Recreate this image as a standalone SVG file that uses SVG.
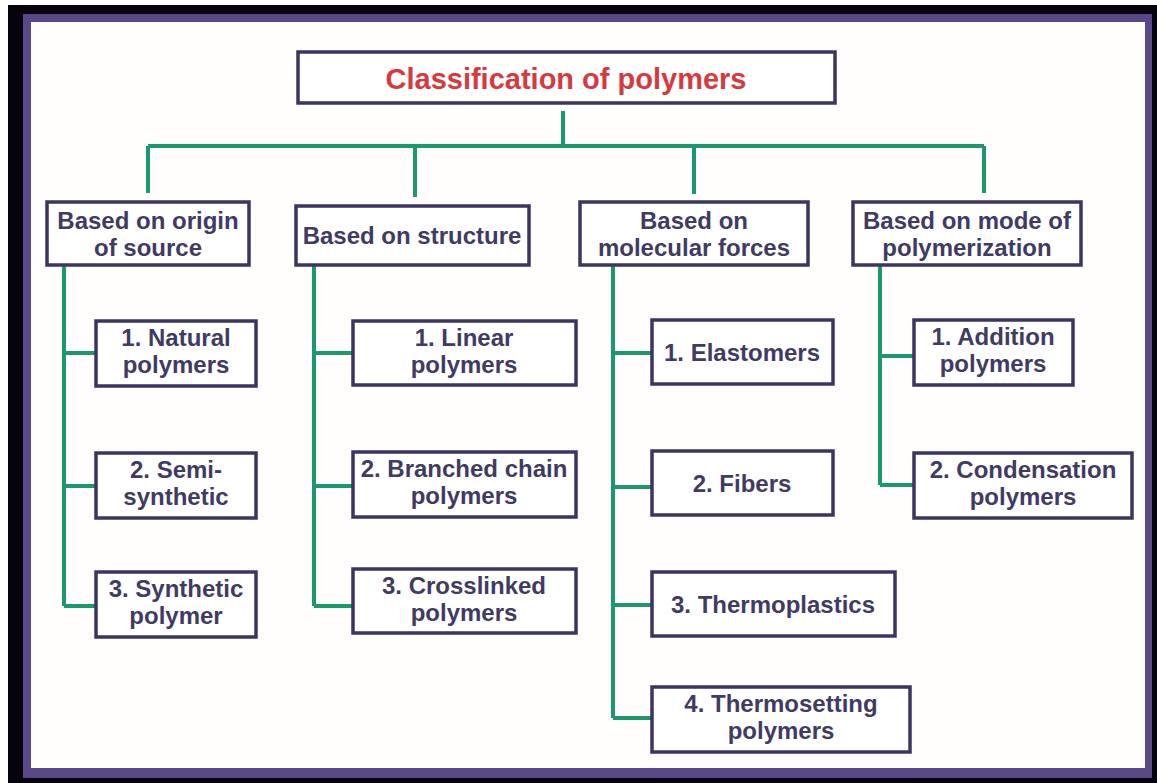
<svg xmlns="http://www.w3.org/2000/svg" width="1157" height="783" viewBox="0 0 1157 783">
<style>
.box{fill:#ffffff;stroke:#3b3560;stroke-width:3.5}
.t{font-family:"Liberation Sans",Arial,sans-serif;font-weight:bold;font-size:24px;fill:#413b63;text-anchor:middle}
.title{font-family:"Liberation Sans",Arial,sans-serif;font-weight:bold;font-size:29px;fill:#d63a3f;text-anchor:middle}
.c{fill:none;stroke:#1a9a6c;stroke-width:4}
</style>
<rect x="0" y="0" width="1157" height="783" fill="#ffffff"/>
<rect x="8" y="5" width="1149" height="778" fill="#07030c"/>
<rect x="23" y="14" width="1129" height="764" fill="#5a4888"/>
<rect x="31" y="22" width="1114" height="746" fill="#fffefc"/>

<g id="connectors">
<path class="c" d="M563 111 V146 M148 146 H984 M148 146 V193 M415 146 V197 M694 146 V194 M984 146 V193"/>
<path class="c" d="M64 266 V606 M64 353 H96 M64 486 H96 M64 606 H96"/>
<path class="c" d="M314 266 V606 M314 353 H353 M314 486 H353 M314 606 H353"/>
<path class="c" d="M613 266 V718 M613 353 H652 M613 487 H652 M613 605 H652 M613 718 H652"/>
<path class="c" d="M880 266 V485 M880 356 H914 M880 485 H914"/>
</g>

<g id="title">
<rect class="box" x="298" y="52" width="537" height="51"/>
<text class="title" x="566" y="89">Classification of polymers</text>
</g>

<g id="origin">
<rect class="box" x="47" y="202" width="202" height="63"/>
<text class="t" x="148" y="229">Based on origin</text>
<text class="t" x="148" y="256">of source</text>
</g>
<g id="structure">
<rect class="box" x="296" y="206" width="233" height="59"/>
<text class="t" x="412" y="244">Based on structure</text>
</g>
<g id="molecular">
<rect class="box" x="580" y="202" width="228" height="63"/>
<text class="t" x="694" y="229">Based on</text>
<text class="t" x="694" y="256">molecular forces</text>
</g>
<g id="mode">
<rect class="box" x="853" y="202" width="228" height="63"/>
<text class="t" x="967" y="229">Based on mode of</text>
<text class="t" x="967" y="256">polymerization</text>
</g>

<g id="natural">
<rect class="box" x="96" y="321" width="160" height="65"/>
<text class="t" x="176" y="346">1. Natural</text>
<text class="t" x="176" y="373">polymers</text>
</g>
<g id="semi">
<rect class="box" x="96" y="453" width="160" height="65"/>
<text class="t" x="176" y="478">2. Semi-</text>
<text class="t" x="176" y="505">synthetic</text>
</g>
<g id="synthetic">
<rect class="box" x="96" y="572" width="160" height="65"/>
<text class="t" x="176" y="597">3. Synthetic</text>
<text class="t" x="176" y="624">polymer</text>
</g>

<g id="linear">
<rect class="box" x="353" y="321" width="223" height="64"/>
<text class="t" x="464" y="346">1. Linear</text>
<text class="t" x="464" y="373">polymers</text>
</g>
<g id="branched">
<rect class="box" x="353" y="452" width="223" height="65"/>
<text class="t" x="464" y="477">2. Branched chain</text>
<text class="t" x="464" y="504">polymers</text>
</g>
<g id="crosslinked">
<rect class="box" x="353" y="569" width="223" height="64"/>
<text class="t" x="464" y="594">3. Crosslinked</text>
<text class="t" x="464" y="621">polymers</text>
</g>

<g id="elastomers">
<rect class="box" x="652" y="320" width="181" height="64"/>
<text class="t" x="742" y="361">1. Elastomers</text>
</g>
<g id="fibers">
<rect class="box" x="652" y="451" width="181" height="64"/>
<text class="t" x="742" y="492">2. Fibers</text>
</g>
<g id="thermoplastics">
<rect class="box" x="652" y="572" width="243" height="64"/>
<text class="t" x="773" y="613">3. Thermoplastics</text>
</g>
<g id="thermosetting">
<rect class="box" x="652" y="687" width="258" height="65"/>
<text class="t" x="781" y="712">4. Thermosetting</text>
<text class="t" x="781" y="739">polymers</text>
</g>

<g id="addition">
<rect class="box" x="914" y="320" width="159" height="65"/>
<text class="t" x="993" y="345">1. Addition</text>
<text class="t" x="993" y="372">polymers</text>
</g>
<g id="condensation">
<rect class="box" x="914" y="453" width="218" height="65"/>
<text class="t" x="1023" y="478">2. Condensation</text>
<text class="t" x="1023" y="505">polymers</text>
</g>
</svg>
